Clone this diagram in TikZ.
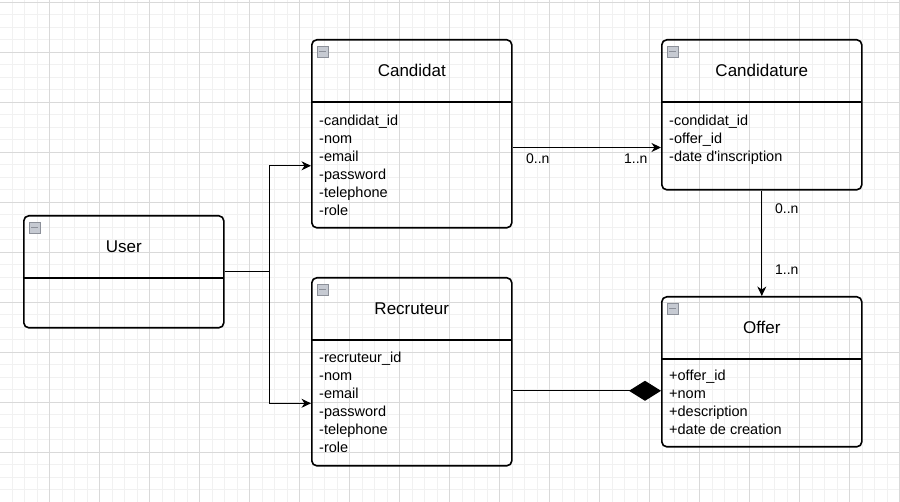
\documentclass[tikz,border=0pt]{standalone}
\usepackage{fontspec}
\setmainfont{Liberation Sans}
\usetikzlibrary{calc,arrows.meta}
\definecolor{majorgrid}{HTML}{D9D9D9}
\definecolor{minorgrid}{HTML}{F1F1F1}
\definecolor{iconfill}{HTML}{C6CAD2}
\definecolor{iconline}{HTML}{8C9099}
\tikzset{
  classbox/.style={draw,line width=1.6pt,rounded corners=5pt,minimum width=200pt,anchor=north west,inner sep=0pt},
  classhead/.style={anchor=north,minimum width=200pt,minimum height=62.5pt,inner sep=0pt,font=\fontsize{17}{20}\selectfont},
  classrule/.style={line width=1.6pt},
  attrs/.style={anchor=base west,align=left,inner sep=0pt,font=\fontsize{14.5}{18}\selectfont},
  collapse/.style={anchor=north west,draw=iconline,fill=iconfill,minimum size=11pt,inner sep=0pt,
    path picture={\draw[line width=1.2pt] ([xshift=2pt]path picture bounding box.west) -- ([xshift=-2pt]path picture bounding box.east);}},
  assoc/.style={line width=1.1pt,-{Stealth[length=9.5pt,width=9pt,inset=3pt]}},
  compo/.style={line width=1.1pt,-{Diamond[length=32pt,width=20pt]}},
  mult/.style={inner sep=0pt,font=\fontsize{14}{17}\selectfont},
}
\begin{document}
\begin{tikzpicture}[x=1pt,y=-1pt]
\fill[white] (0,0) rectangle (900,502);
\useasboundingbox (0,0) rectangle (900,502);
\begin{scope}
\clip (0,0) rectangle (900,502);
\draw[minorgrid,line width=0.8pt,shift={(-0.5,2.3)},step=12.5pt] (-50,-50) grid (950,550);
\draw[majorgrid,line width=0.8pt,shift={(-0.5,2.3)},step=50pt] (-50,-50) grid (950,550);
\end{scope}

% classes (attribute nodes sit on the baseline of their last line)
\node[classbox,minimum height=112pt] (user) at (23,215) {};
\node[classhead] (userT) at (user.north) {User};
\draw[classrule] (userT.south west) -- (userT.south east);
\node[collapse] (userX) at ([shift={(6pt,-7pt)}]user.north west) {};

\node[classbox,minimum height=188pt] (cand) at (311,39) {};
\node[classhead] (candT) at (cand.north) {Candidat};
\draw[classrule] (candT.south west) -- (candT.south east);
\node[collapse] (candX) at ([shift={(6pt,-7pt)}]cand.north west) {};
\node[attrs] (candA) at (319,215.7) {-candidat\_id\\-nom\\-email\\-password\\-telephone\\-role};

\node[classbox,minimum height=188pt] (rec) at (311,277) {};
\node[classhead] (recT) at (rec.north) {Recruteur};
\draw[classrule] (recT.south west) -- (recT.south east);
\node[collapse] (recX) at ([shift={(6pt,-7pt)}]rec.north west) {};
\node[attrs] (recA) at (319,452.7) {-recruteur\_id\\-nom\\-email\\-password\\-telephone\\-role};

\node[classbox,minimum height=150pt] (cture) at (661,39) {};
\node[classhead] (ctureT) at (cture.north) {Candidature};
\draw[classrule] (ctureT.south west) -- (ctureT.south east);
\node[collapse] (ctureX) at ([shift={(6pt,-7pt)}]cture.north west) {};
\node[attrs] (ctureA) at (669,161.5) {-condidat\_id\\-offer\_id\\-date d\textquotesingle inscription};

\node[classbox,minimum height=150pt] (offer) at (661,296) {};
\node[classhead] (offerT) at (offer.north) {Offer};
\draw[classrule] (offerT.south west) -- (offerT.south east);
\node[collapse] (offerX) at ([shift={(6pt,-7pt)}]offer.north west) {};
\node[attrs] (offerA) at (669,434.7) {+offer\_id\\+nom\\+description\\+date de creation};

% relations
\draw[assoc] (user.east) -- ++(45,0) |- ([yshift=-32pt]cand.west);
\draw[assoc] (user.east) -- ++(45,0) |- ([yshift=-31.5pt]rec.west);
\draw[assoc] ([yshift=-13.7pt]cand.east) -- ([yshift=-13.7pt]cand.east -| cture.west)
  node[mult,at start,anchor=north west,xshift=13pt,yshift=-5.6pt] (m1) {0..n}
  node[mult,at end,anchor=north east,xshift=-13pt,yshift=-5.6pt] (m2) {1..n};
\draw[assoc] (cture.south) -- (offer.north)
  node[mult,at start,anchor=north west,xshift=12.8pt,yshift=-13pt] (m3) {0..n}
  node[mult,at end,anchor=north west,xshift=12.8pt,yshift=31.7pt] (m4) {1..n};
\draw[compo] ([yshift=-19pt]rec.east) -- ([yshift=-19pt]rec.east -| offer.west);
\end{tikzpicture}
\end{document}
